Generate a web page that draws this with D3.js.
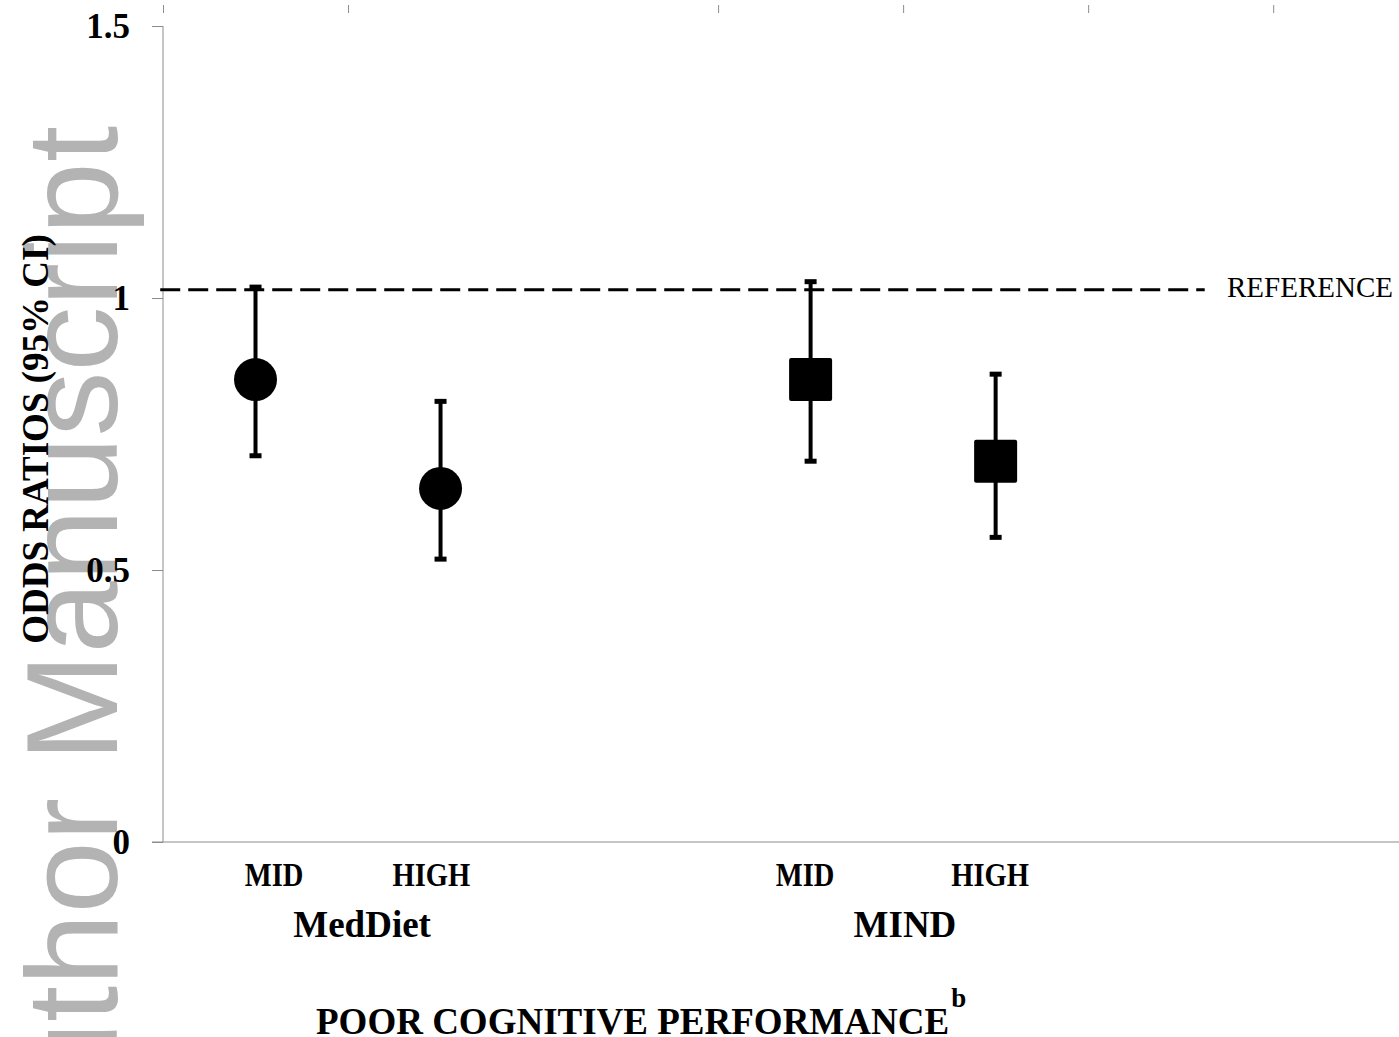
<!DOCTYPE html>
<html lang="en">
<head>
    <meta charset="UTF-8">
    <title>Odds ratios - poor cognitive performance</title>
    <style>
        body { margin: 0; background: #fff; overflow: hidden; }
        svg { display: block; }
        .serif { font-family: "Liberation Serif", "Times New Roman", serif; }
    </style>
</head>
<body>
<svg id="chart" width="1399" height="1037"></svg>

<script src="https://cdnjs.cloudflare.com/ajax/libs/d3/7.8.5/d3.min.js"></script>
<script>
    // data
    const diets = ["MedDiet", "MedDiet", "MIND", "MIND"];
    const levels = ["MID", "HIGH", "MID", "HIGH"];
    const slots = [0.5, 1.5, 3.5, 4.5];          // position on the category axis
    const oddsRatio = [0.85, 0.65, 0.85, 0.70];
    const ciLow = [0.71, 0.52, 0.70, 0.56];
    const ciHigh = [1.02, 0.81, 1.03, 0.86];
    const yTicks = [0, 0.5, 1, 1.5];
    const topTicks = [0, 1, 3, 4, 5, 6];
    const refValue = 1.015;
    const groups = ["MedDiet", "MIND"];

    const svg = d3.select("#chart");

    const x = d3.scaleLinear().domain([0, 6.68]).range([163, 1399]);
    const y = d3.scaleLinear().domain([0, 1.5]).range([842, 26]);

    // watermark sits under everything
    svg.append("text")
        .attr("transform", "translate(117,126) rotate(-90)")
        .attr("text-anchor", "end")
        .style("font-family", "'Liberation Sans', Arial, sans-serif")
        .style("font-size", "130px")
        .style("fill", "#b3b3b3")
        .text("Author Manuscript");

    // y axis
    const yAxis = svg.append("g")
        .attr("transform", `translate(${x(0)},0)`)
        .call(d3.axisLeft(y).tickValues(yTicks).tickSize(11).tickPadding(22)
            .tickFormat(d => String(d)));
    yAxis.select(".domain").attr("stroke", "#8c8c8c").attr("d", `M0,${y(1.5)}V${y(0)}`);
    yAxis.selectAll(".tick line").attr("stroke", "#8c8c8c");
    yAxis.selectAll(".tick text")
        .attr("class", "serif")
        .style("font-size", "35px")
        .style("font-weight", "bold")
        .attr("fill", "#000")
        .attr("dy", "0.34em");

    // x axis baseline
    svg.append("line")
        .attr("x1", 152).attr("x2", 1399)
        .attr("y1", y(0)).attr("y2", y(0))
        .attr("stroke", "#8c8c8c");

    // small ticks along the top
    const topAxis = svg.append("g")
        .attr("transform", "translate(0,13)")
        .call(d3.axisTop(x).tickValues(topTicks).tickSize(8).tickFormat(""));
    topAxis.select(".domain").remove();
    topAxis.selectAll(".tick line").attr("stroke", "#8c8c8c");

    // dashed reference line
    svg.append("line")
        .attr("x1", x(-0.015)).attr("x2", x(5.63))
        .attr("y1", y(refValue)).attr("y2", y(refValue))
        .attr("stroke", "#000")
        .attr("stroke-width", 3)
        .attr("stroke-dasharray", "20 8");

    svg.append("text")
        .attr("class", "serif")
        .attr("x", 1227).attr("y", y(refValue) + 7)
        .style("font-size", "29px")
        .text("REFERENCE");

    // error bars
    const idx = d3.range(oddsRatio.length);
    const bars = svg.append("g");
    bars.selectAll("line.ci").data(idx).join("line")
        .attr("class", "ci")
        .attr("x1", i => x(slots[i])).attr("x2", i => x(slots[i]))
        .attr("y1", i => y(ciHigh[i])).attr("y2", i => y(ciLow[i]))
        .attr("stroke", "#000").attr("stroke-width", 4);
    bars.selectAll("rect.cap").data(idx.flatMap(i => [[i, ciHigh[i]], [i, ciLow[i]]])).join("rect")
        .attr("class", "cap")
        .attr("x", d => x(slots[d[0]]) - 6)
        .attr("y", d => y(d[1]) - 2.5)
        .attr("width", 12).attr("height", 5)
        .attr("fill", "#000");

    // markers: circles for MedDiet, squares for MIND
    svg.selectAll("circle.pt").data(idx.filter(i => diets[i] === "MedDiet")).join("circle")
        .attr("class", "pt")
        .attr("cx", i => x(slots[i])).attr("cy", i => y(oddsRatio[i]))
        .attr("r", 21.5)
        .attr("fill", "#000");
    svg.selectAll("rect.pt").data(idx.filter(i => diets[i] === "MIND")).join("rect")
        .attr("class", "pt")
        .attr("x", i => x(slots[i]) - 21.5).attr("y", i => y(oddsRatio[i]) - 21.5)
        .attr("width", 43).attr("height", 43)
        .attr("rx", 2)
        .attr("fill", "#000");

    // category labels (hand placed in the original, narrow bold type)
    const levelLabelX = [0.6, 1.45, 3.47, 4.47];
    svg.selectAll("text.level").data(idx).join("text")
        .attr("class", "serif level")
        .attr("transform", i => `translate(${x(levelLabelX[i])},886) scale(0.84,1)`)
        .attr("text-anchor", "middle")
        .style("font-size", "34px").style("font-weight", "bold")
        .text(i => levels[i]);

    const groupLabelX = [1.076, 4.01];
    svg.selectAll("text.group").data(groups).join("text")
        .attr("class", "serif group")
        .attr("x", (d, i) => x(groupLabelX[i])).attr("y", 937)
        .attr("text-anchor", "middle")
        .style("font-size", "37px").style("font-weight", "bold")
        .text(d => d);

    // x title with superscript
    const title = svg.append("text")
        .attr("class", "serif")
        .attr("x", 316).attr("y", 1034)
        .style("font-size", "37px").style("font-weight", "bold");
    title.append("tspan").text("POOR COGNITIVE PERFORMANCE");
    title.append("tspan").attr("dx", 2).attr("dy", -27).style("font-size", "27px").text("b");

    // y title
    svg.append("text")
        .attr("class", "serif")
        .attr("transform", "translate(48,439) rotate(-90)")
        .attr("text-anchor", "middle")
        .style("font-size", "37px").style("font-weight", "bold")
        .text("ODDS RATIOS (95% CI)");
</script>
</body>
</html>
